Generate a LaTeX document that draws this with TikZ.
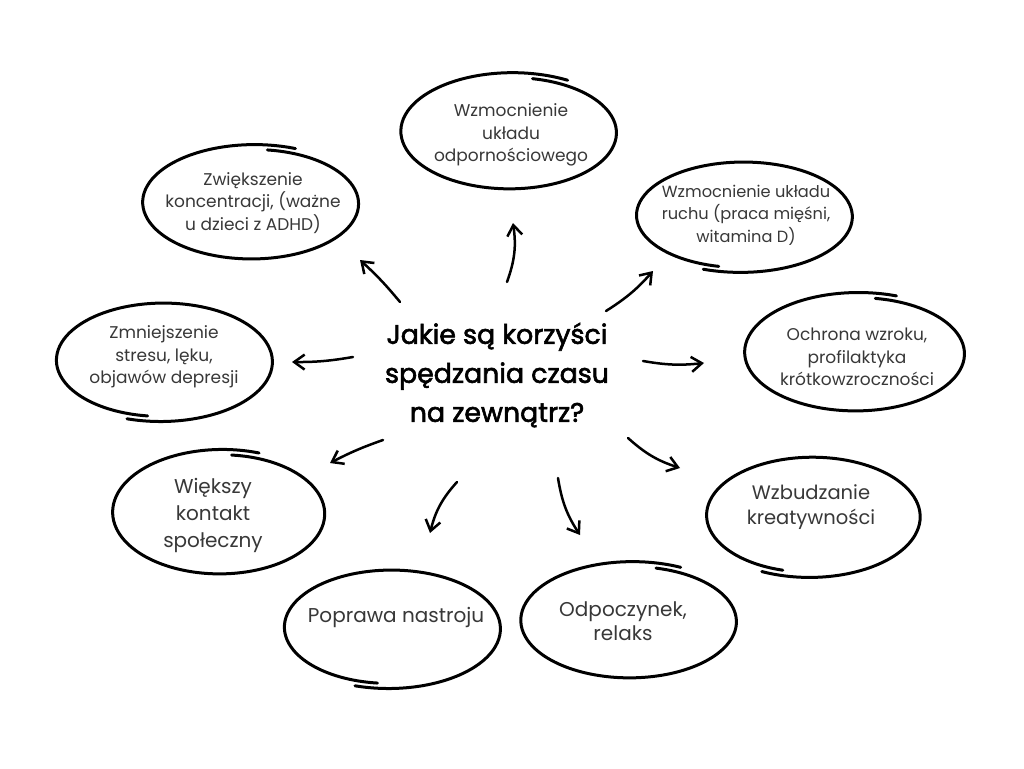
\documentclass[tikz,border=0pt]{standalone}
\usepackage{fontspec}
\setmainfont{Poppins}
\newfontfamily\titlefont{Poppins}[FakeBold=2.2]
\usetikzlibrary{arrows.meta}
\newcommand\sketchell[6]{% cx, cy, rx, ry, start, end
  \draw[ell] plot[smooth, samples=100, domain=#5:#6, variable=\t]
    ({#1+#3*(0.94+0.09*(\t-(#5))/((#6)-(#5)))*cos(\t)},
     {#2+#4*(0.94+0.09*(\t-(#5))/((#6)-(#5)))*sin(\t)});}
\begin{document}
\begin{tikzpicture}[x=1pt,y=-1pt,
  ell/.style={line width=3pt, line cap=round, line join=round},
  arr/.style={line width=2.5pt, line cap=round,
    -{Straight Barb[length=10.5pt,width=15pt,line width=2.5pt]}},
  lbl/.style={align=center, inner sep=0pt, text=black!78,
    font=\fontsize{17}{22.5}\selectfont},
  big/.style={lbl, font=\fontsize{20}{27}\selectfont},
  title/.style={align=center, inner sep=0pt, text=black,
    font=\titlefont\fontsize{26.8}{39}\selectfont}]
\useasboundingbox[fill=white] (0,0) rectangle (1024,768);

% central text
\node[title] (c) at (497,375) {Jakie są korzyści\\spędzania czasu\\na zewnątrz?};

% ellipses
\sketchell{511}{132}{110}{58}{-78}{300}
\node[lbl] (e1) at (511,135) {Wzmocnienie\\układu\\odpornościowego};

\sketchell{253}{203}{110}{57}{-82}{292}
\node[lbl] (e2) at (253,203) {Zwiększenie\\koncentracji, (ważne\\u dzieci z ADHD)};

\sketchell{742}{216}{110}{55}{103}{470}
\node[lbl, font=\fontsize{16.2}{22.5}\selectfont] (e3) at (746,215) {Wzmocnienie układu\\ruchu (praca mięśni,\\witamina D)};

\sketchell{857}{353}{112}{59}{-80}{290}
\node[lbl] (e4) at (857,357) {Ochrona wzroku,\\profilaktyka\\krótkowzroczności};

\sketchell{162}{361}{110}{59}{98}{468}
\node[lbl] (e5) at (164,357) {Zmniejszenie\\stresu, lęku,\\objawów depresji};

\sketchell{221}{513}{108}{62}{-84}{290}
\node[big] (e6) at (213,515) {Większy\\kontakt\\społeczny};

\sketchell{390}{628}{110}{59}{97}{468}
\node[big] (e7) at (396,617) {Poprawa nastroju};

\sketchell{631}{621}{110}{58}{-76}{296}
\node[big, font=\fontsize{20}{24}\selectfont] (e8) at (623,621) {Odpoczynek,\\relaks};

\sketchell{811}{516}{109}{60}{106}{476}
\node[big, font=\fontsize{19.5}{25}\selectfont] (e9) at (811,507) {Wzbudzanie\\kreatywności};

% arrow coordinates
\coordinate (s1) at (507,282); \coordinate (t1) at (513,223);
\coordinate (s2) at (400,302); \coordinate (t2) at (360,260);
\coordinate (s3) at (606,311); \coordinate (t3) at (653,271);
\coordinate (s4) at (643,361); \coordinate (t4) at (704,363);
\coordinate (s5) at (353,357); \coordinate (t5) at (292,362);
\coordinate (s6) at (383,440); \coordinate (t6) at (330,463);
\coordinate (s7) at (457,482); \coordinate (t7) at (430,533);
\coordinate (s8) at (558,478); \coordinate (t8) at (580,535);
\coordinate (s9) at (628,438); \coordinate (t9) at (680,468);

\draw[arr] (s1) to[bend right=14] (t1);
\draw[arr] (s2) to[bend right=4] (t2);
\draw[arr] (s3) to[bend right=8] (t3);
\draw[arr] (s4) to[bend right=8] (t4);
\draw[arr] (s5) to[bend left=5] (t5);
\draw[arr] (s6) to[bend right=4] (t6);
\draw[arr] (s7) to[bend right=14] (t7);
\draw[arr] (s8) to[bend right=12] (t8);
\draw[arr] (s9) to[bend right=12] (t9);
\end{tikzpicture}
\end{document}
